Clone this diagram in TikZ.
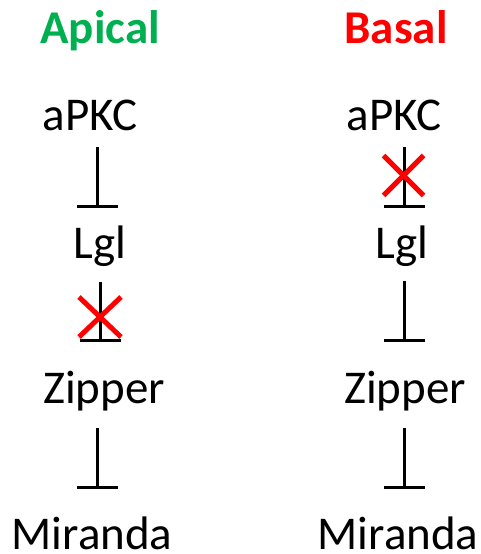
\documentclass[tikz,border=0pt]{standalone}
\usepackage{fontspec}
\setmainfont{Carlito}
\usetikzlibrary{arrows.meta,calc}
\definecolor{apicalgreen}{RGB}{0,176,80}
\definecolor{basalred}{RGB}{255,0,0}
\tikzset{
  lbl/.style={anchor=base, inner sep=0pt, font=\fontsize{47}{56}\selectfont},
  head/.style={lbl, font=\fontsize{47}{56}\selectfont\bfseries},
  inhib/.style={line width=3pt, -{Bar[width=41pt, line width=3pt]}},
  block/.style={basalred, line width=5pt}
}
\begin{document}
\begin{tikzpicture}[x=1pt, y=-1pt]
\useasboundingbox (0,0) rectangle (480,554);

% column headings
\node[head, text=apicalgreen] (hA) at (100,43) {Apical};
\node[head, text=basalred]    (hB) at (396,43) {Basal};

% apical chain
\node[lbl] (apkcA) at (90,130) {aPKC};
\node[lbl] (lglA)  at (100,258) {Lgl};
\node[lbl] (zipA)  at (104,403) {Zipper};
\node[lbl] (mirA)  at (92,549) {Miranda};

% basal chain
\node[lbl] (apkcB) at (394,130) {aPKC};
\node[lbl] (lglB)  at (402,258) {Lgl};
\node[lbl] (zipB)  at (405,403) {Zipper};
\node[lbl] (mirB)  at (398,549) {Miranda};

% connector end points
\coordinate (a1s) at (97,147);  \coordinate (a1e) at (97,208);
\coordinate (a2s) at (100,282); \coordinate (a2e) at (100,342);
\coordinate (a3s) at (97,428);  \coordinate (a3e) at (97,489);
\coordinate (b1s) at (404,147); \coordinate (b1e) at (404,208);
\coordinate (b2s) at (404,281); \coordinate (b2e) at (404,342);
\coordinate (b3s) at (404,428); \coordinate (b3e) at (404,489);

% inhibition connectors
\draw[inhib] (a1s) -- (a1e);
\draw[inhib] (a2s) -- (a2e);
\draw[inhib] (a3s) -- (a3e);
\draw[inhib] (b1s) -- (b1e);
\draw[inhib] (b2s) -- (b2e);
\draw[inhib] (b3s) -- (b3e);

% blocked interactions
\coordinate (xA) at (100,317);
\draw[block] ($(xA)+(-21,-20)$) -- ($(xA)+(21,20)$);
\draw[block] ($(xA)+(-21,20)$) -- ($(xA)+(21,-20)$);
\coordinate (xB) at (403.5,175.5);
\draw[block] ($(xB)+(-20,-20)$) -- ($(xB)+(20,20)$);
\draw[block] ($(xB)+(-20,20)$) -- ($(xB)+(20,-20)$);
\end{tikzpicture}
\end{document}
